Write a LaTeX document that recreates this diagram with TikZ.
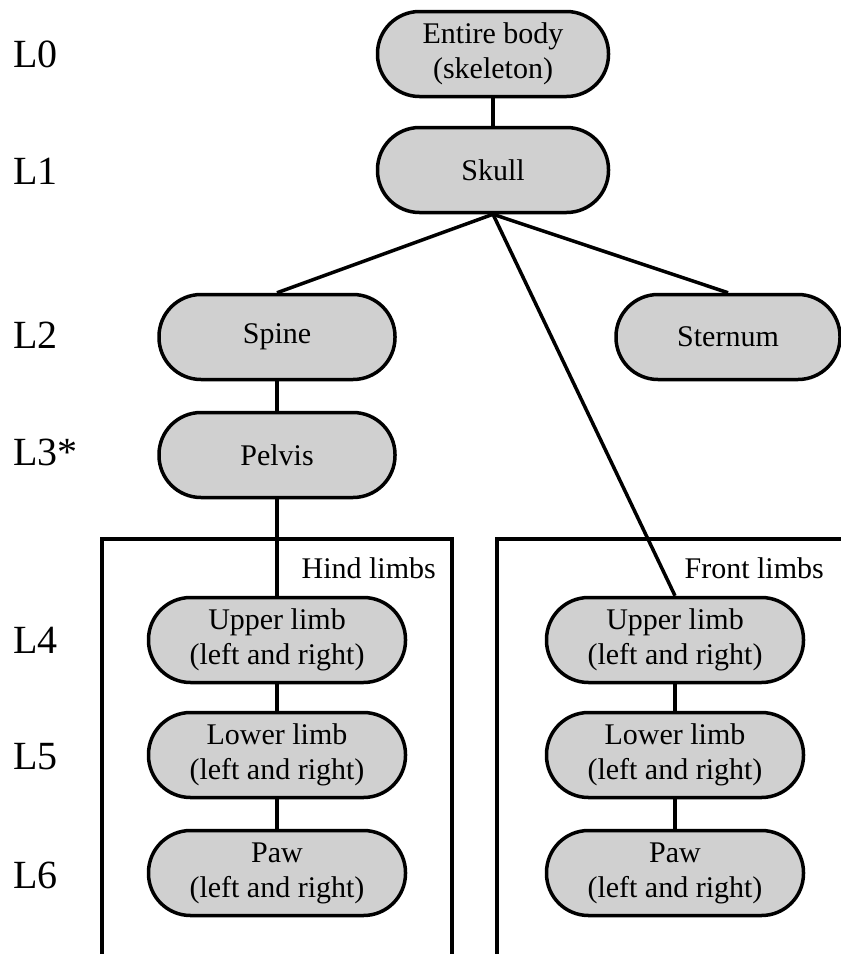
\documentclass[tikz,border=0pt]{standalone}
\usepackage{fontspec}
\newfontfamily\tms{LiberationSerif-Regular.ttf}
\definecolor{nodegray}{RGB}{208,208,208}
\begin{document}
\begin{tikzpicture}[x=1pt,y=-1pt,
  pill/.style={draw=black, line width=3.5pt, fill=nodegray, rounded corners=42pt,
    minimum height=85pt, align=center, inner sep=0pt,
    font=\tms\fontsize{30}{35}\selectfont},
  topw/.style={minimum width=231pt},
  midw/.style={minimum width=236pt},
  limbw/.style={minimum width=257pt},
  lvl/.style={anchor=west, inner sep=0pt, font=\tms\fontsize{40}{44}\selectfont},
  grp/.style={anchor=base east, inner sep=0pt, font=\tms\fontsize{30}{35}\selectfont},
  link/.style={line width=3.5pt},
  frame/.style={line width=3.5pt}
]
\useasboundingbox (0,0) rectangle (841,954);

% group frames (open at the bottom)
\coordinate (hbl) at (102,958);
\coordinate (htl) at (102,539);
\coordinate (htr) at (452,539);
\coordinate (hbr) at (452,958);
\coordinate (fbl) at (497,958);
\coordinate (ftl) at (497,539);
\coordinate (ftr) at (845,539);
\draw[frame] (hbl) -- (htl) -- (htr) -- (hbr);
\draw[frame] (fbl) -- (ftl) -- (ftr);
\node[grp] (hindlbl) at (436,578) {Hind limbs};
\node[grp] (frontlbl) at (824,578) {Front limbs};

% nodes
\node[pill,topw] (body) at (493,54) {Entire body\\(skeleton)};
\node[pill,topw] (skull) at (493,170) {Skull};
\node[pill,midw] (spine) at (277,337) {Spine};
\node[pill,minimum width=224pt] (sternum) at (728,337) {Sternum};
\node[pill,midw] (pelvis) at (277,455) {Pelvis};
\node[pill,limbw] (hup) at (277,640) {Upper limb\\(left and right)};
\node[pill,limbw] (hlow) at (277,755) {Lower limb\\(left and right)};
\node[pill,limbw] (hpaw) at (277,873) {Paw\\(left and right)};
\node[pill,limbw] (fup) at (675,640) {Upper limb\\(left and right)};
\node[pill,limbw] (flow) at (675,755) {Lower limb\\(left and right)};
\node[pill,limbw] (fpaw) at (675,873) {Paw\\(left and right)};

% level labels
\node[lvl] (l0) at (13,54) {L0};
\node[lvl] (l1) at (13,171) {L1};
\node[lvl] (l2) at (13,335) {L2};
\node[lvl] (l3) at (13,452) {L3*};
\node[lvl] (l4) at (13,640) {L4};
\node[lvl] (l5) at (13,757) {L5};
\node[lvl] (l6) at (13,875) {L6};

% connectors
\draw[link] (body) -- (skull);
\draw[link] (skull.south) -- (spine.north);
\draw[link] (skull.south) -- (sternum.north);
\draw[link] (skull.south) -- (fup.north);
\draw[link] (spine) -- (pelvis);
\draw[link] (pelvis) -- (hup);
\draw[link] (hup) -- (hlow);
\draw[link] (hlow) -- (hpaw);
\draw[link] (fup) -- (flow);
\draw[link] (flow) -- (fpaw);
\end{tikzpicture}
\end{document}
